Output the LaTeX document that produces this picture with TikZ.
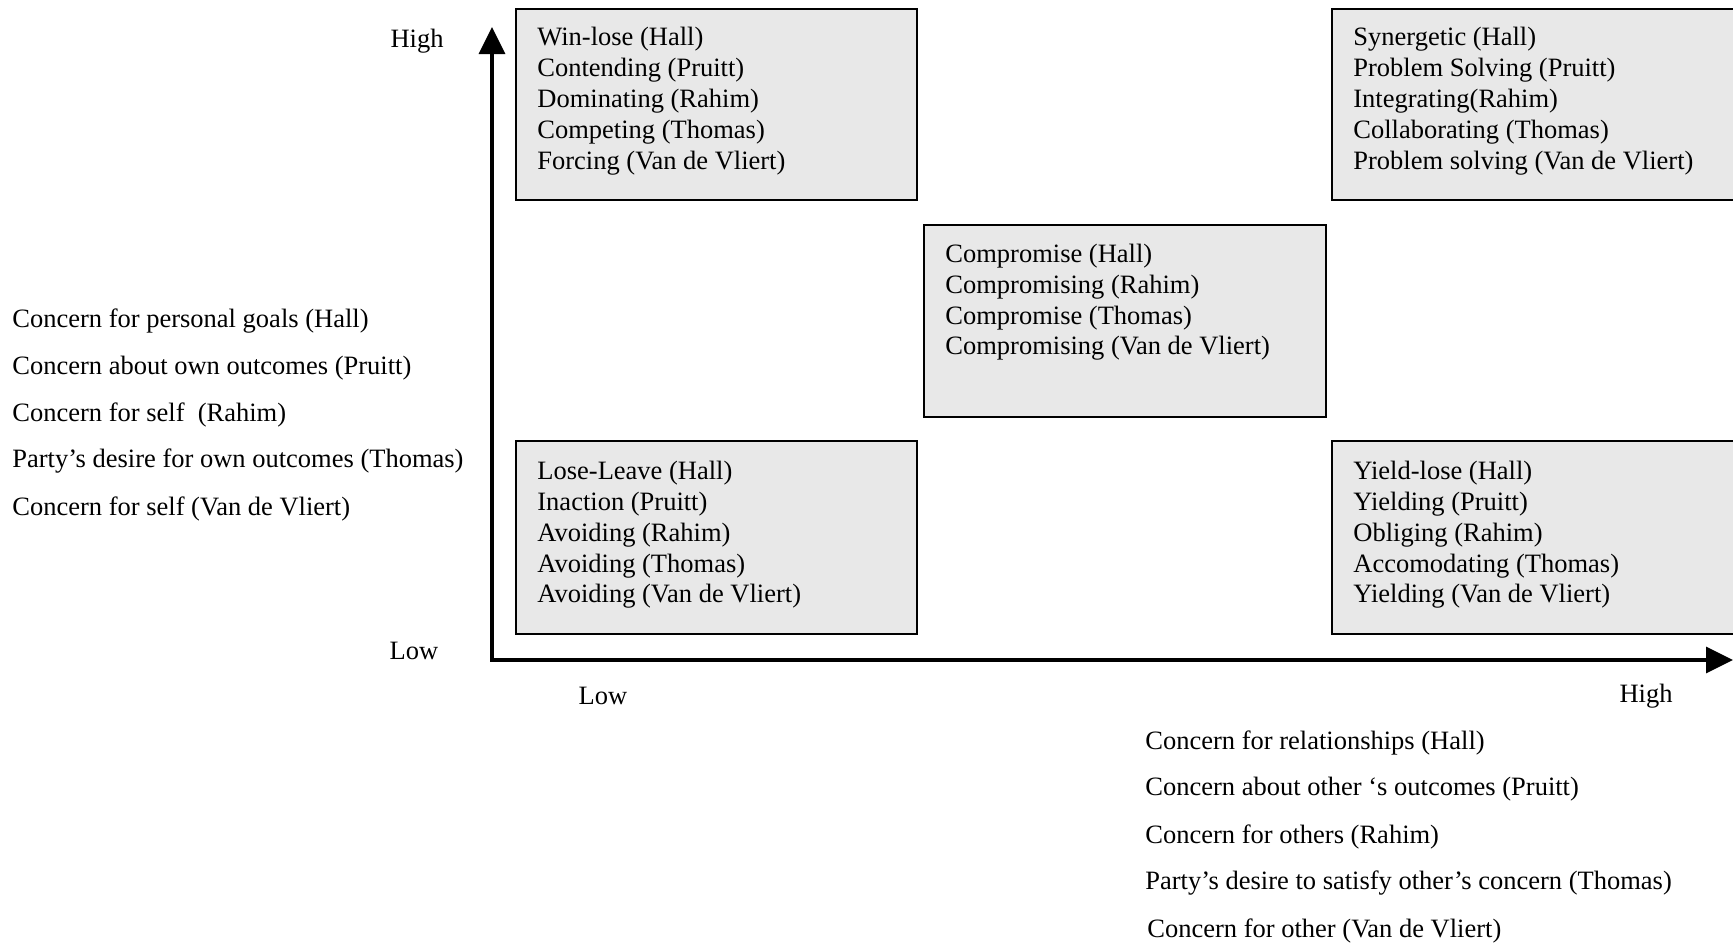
\documentclass[tikz,border=0pt]{standalone}
\usepackage{fontspec}
\setmainfont{Liberation Serif}
\usetikzlibrary{arrows.meta,fit}
\definecolor{boxgray}{HTML}{E8E8E8}
\begin{document}
\begin{tikzpicture}[x=0.5pt,y=-0.5pt,
  qbox/.style={draw=black, line width=1.2pt, fill=boxgray, inner sep=0pt},
  boxtext/.style={anchor=north west, inner sep=0pt, align=left, font=\fontsize{13.25pt}{15.45pt}\selectfont},
  axlabel/.style={inner sep=0pt, font=\fontsize{13.25pt}{15.45pt}\selectfont},
  axline/.style={line width=1.6pt, {Triangle[length=13.5pt,width=13pt]}-{Triangle[length=13.5pt,width=13pt]}}]
\clip (0,0) rectangle (1733,944);
\useasboundingbox (0,0) rectangle (1733,944);
% boxes
\node[qbox, fit={(516,9) (917,200)}] (tl) {};
\node[qbox, fit={(1332,9) (1760,200)}] (tr) {};
\node[qbox, fit={(924,225) (1326,417)}] (mid) {};
\node[qbox, fit={(516,441) (917,634)}] (bl) {};
\node[qbox, fit={(1332,441) (1760,634)}] (br) {};
% box texts
\node[boxtext] (tltext) at (537,27) {Win-lose (Hall)\\Contending (Pruitt)\\Dominating (Rahim)\\Competing (Thomas)\\Forcing (Van de Vliert)};
\node[boxtext] (trtext) at (1353,27) {Synergetic (Hall)\\Problem Solving (Pruitt)\\Integrating(Rahim)\\Collaborating (Thomas)\\Problem solving (Van de Vliert)};
\node[boxtext] (midtext) at (945,243.5) {Compromise (Hall)\\Compromising (Rahim)\\Compromise (Thomas)\\Compromising (Van de Vliert)};
\node[boxtext] (bltext) at (537,460.5) {Lose-Leave (Hall)\\Inaction (Pruitt)\\Avoiding (Rahim)\\Avoiding (Thomas)\\Avoiding (Van de Vliert)};
\node[boxtext] (brtext) at (1353,460.5) {Yield-lose (Hall)\\Yielding (Pruitt)\\Obliging (Rahim)\\Accomodating (Thomas)\\Yielding (Van de Vliert)};
% axes
\coordinate (origin) at (492,660);
\coordinate (ytip) at (492,27);
\coordinate (xtip) at (1733,660);
\draw[axline] (ytip) -- (origin) -- (xtip);
% axis labels
\node[axlabel] (yhigh) at (417,41.5) {High};
\node[axlabel] (ylow) at (414,650.5) {Low};
\node[axlabel] (xlow) at (603,696) {Low};
\node[axlabel] (xhigh) at (1646,696.5) {High};
% left texts
\node[axlabel, anchor=west] (l1) at (12,321.5) {Concern for personal goals (Hall)};
\node[axlabel, anchor=west] (l2) at (12,368.5) {Concern about own outcomes (Pruitt)};
\node[axlabel, anchor=west] (l3) at (12,414.5) {Concern for self\ \ (Rahim)};
\node[axlabel, anchor=west] (l4) at (12,461.5) {Party’s desire for own outcomes (Thomas)};
\node[axlabel, anchor=west] (l5) at (12,508.5) {Concern for self (Van de Vliert)};
% bottom texts
\node[axlabel, anchor=west] (b1) at (1145,743) {Concern for relationships (Hall)};
\node[axlabel, anchor=west] (b2) at (1145,789.5) {Concern about other ‘s outcomes (Pruitt)};
\node[axlabel, anchor=west] (b3) at (1145,836.5) {Concern for others (Rahim)};
\node[axlabel, anchor=west] (b4) at (1145,883.5) {Party’s desire to satisfy other’s concern (Thomas)};
\node[axlabel, anchor=west] (b5) at (1147,930.5) {Concern for other (Van de Vliert)};
\end{tikzpicture}
\end{document}
